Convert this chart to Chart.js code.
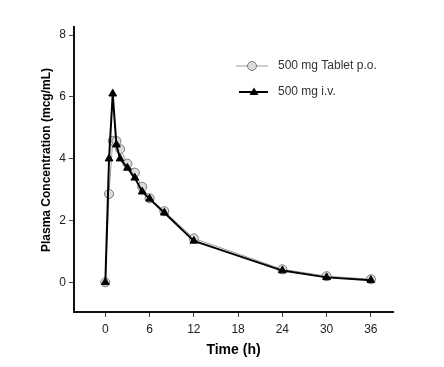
<!DOCTYPE html>
<html><head><meta charset="utf-8">
<script src="https://cdn.jsdelivr.net/npm/chart.js@4/dist/chart.umd.min.js"></script>
<style>html,body{margin:0;padding:0;background:#fff}#wrap{width:444px;height:367px}</style>
</head><body><div id="wrap"><canvas id="c" width="444" height="367"></canvas></div>
<script>
const timesH = [0, 0.5, 1, 1.5, 2, 3, 4, 5, 6, 8, 12, 24, 30, 36];
const ivConc = [0, 4.0, 6.1, 4.45, 4.0, 3.7, 3.38, 2.93, 2.7, 2.25, 1.34, 0.38, 0.16, 0.07];
const tabletConc = [0, 2.86, 4.58, 4.57, 4.31, 3.84, 3.55, 3.09, 2.72, 2.3, 1.42, 0.42, 0.2, 0.1];
const xTicks = [0, 6, 12, 18, 24, 30, 36];
const yTicks = [0, 2, 4, 6, 8];
const seriesLabels = ['500 mg Tablet p.o.', '500 mg i.v.'];
const yTitle = 'Plasma Concentration (mcg/mL)';

const toPts = (ys) => timesH.map((t, i) => ({x: t, y: ys[i]}));

const legendPlugin = {
  id: 'customLegend',
  afterDraw(chart) {
    const ctx = chart.ctx;
    ctx.save();
    // y title
    ctx.fillStyle = '#000';
    ctx.font = 'bold 12px "Liberation Sans", Arial, sans-serif';
    ctx.textAlign = 'center'; ctx.textBaseline = 'middle';
    ctx.translate(47, 160); ctx.rotate(-Math.PI / 2);
    ctx.fillText(yTitle, 0, 0);
    ctx.setTransform(1, 0, 0, 1, 0, 0);
    // row 1: tablet
    ctx.strokeStyle = '#9a9a9a'; ctx.lineWidth = 1;
    ctx.beginPath(); ctx.moveTo(236, 66); ctx.lineTo(268, 66); ctx.stroke();
    ctx.fillStyle = '#dcdcdc'; ctx.strokeStyle = '#777';
    ctx.beginPath(); ctx.arc(252, 66, 4.5, 0, Math.PI * 2); ctx.fill(); ctx.stroke();
    // row 2: iv
    ctx.strokeStyle = '#000'; ctx.lineWidth = 2;
    ctx.beginPath(); ctx.moveTo(239, 92); ctx.lineTo(268, 92); ctx.stroke();
    ctx.fillStyle = '#000';
    ctx.beginPath(); ctx.moveTo(254, 87.5); ctx.lineTo(258.5, 95); ctx.lineTo(249.5, 95); ctx.closePath(); ctx.fill();
    ctx.fillStyle = '#333'; ctx.font = '12px "Liberation Sans", Arial, sans-serif';
    ctx.textBaseline = 'middle'; ctx.textAlign = 'left';
    ctx.fillText(seriesLabels[0], 278, 66);
    ctx.fillText(seriesLabels[1], 278, 92);
    ctx.restore();
  }
};

new Chart(document.getElementById('c'), {
  type: 'scatter',
  data: {
    datasets: [
      { label: seriesLabels[1], data: toPts(ivConc), showLine: true,
        borderColor: '#000', borderWidth: 2, backgroundColor: '#000',
        pointStyle: 'triangle', pointRadius: 4.5, pointBorderWidth: 1, pointBorderColor: '#000' },
      { label: seriesLabels[0], data: toPts(tabletConc), showLine: true,
        borderColor: '#9a9a9a', borderWidth: 1, backgroundColor: '#dcdcdc',
        pointStyle: 'circle', pointRadius: 4.5, pointBorderWidth: 1, pointBorderColor: '#777' }
    ]
  },
  options: {
    responsive: false, animation: false,
    layout: { padding: { left: 30, top: 27, right: 51, bottom: 4 } },
    plugins: { legend: { display: false }, tooltip: { enabled: false } },
    scales: {
      x: {
        type: 'linear', min: -4.25, max: 39,
        afterBuildTicks: (a) => { a.ticks = xTicks.map(v => ({value: v})); },
        afterFit: (a) => { a.height = 51; },
        grid: { display: true, drawOnChartArea: false, drawTicks: true, tickLength: 5, color: '#444', tickWidth: 1 },
        border: { display: true, color: '#111', width: 2 },
        ticks: { color: '#222', font: { size: 12, family: '"Liberation Sans", Arial' }, padding: 5, maxRotation: 0 },
        title: { display: true, text: 'Time (h)', color: '#000', font: { size: 14, weight: 'bold', family: '"Liberation Sans", Arial' }, padding: { top: 2 } }
      },
      y: {
        type: 'linear', min: -0.96, max: 8.26,
        afterBuildTicks: (a) => { a.ticks = yTicks.map(v => ({value: v})); },
        afterFit: (a) => { a.width = 44; },
        grid: { display: true, drawOnChartArea: false, drawTicks: true, tickLength: 5, color: '#444', tickWidth: 1 },
        border: { display: true, color: '#111', width: 2 },
        ticks: { color: '#222', font: { size: 12, family: '"Liberation Sans", Arial' }, padding: 3 },
        title: { display: false }
      }
    }
  },
  plugins: [legendPlugin]
});
</script></body></html>
